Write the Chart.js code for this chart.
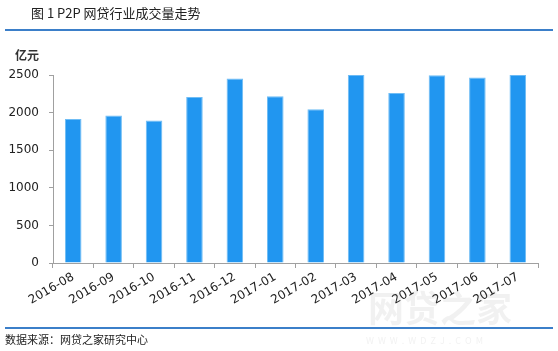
<!DOCTYPE html>
<html>
<head>
<meta charset="utf-8">
<script src="https://cdn.jsdelivr.net/npm/chart.js@4"></script>
<style>
  html, body { margin: 0; padding: 0; background: #fff; }
  #wrap { width: 558px; height: 351px; position: relative; }
</style>
</head>
<body>
<div id="wrap"><canvas id="barChart" width="558" height="351"></canvas></div>
<script>
var months = ['2016-08', '2016-09', '2016-10', '2016-11', '2016-12', '2017-01',
              '2017-02', '2017-03', '2017-04', '2017-05', '2017-06', '2017-07'];
var volume = [1915, 1960, 1895, 2208, 2452, 2218, 2045, 2505, 2262, 2497, 2466, 2505];
var yTicks = [0, 500, 1000, 1500, 2000, 2500];

var titleText = '图 1 P2P 网贷行业成交量走势';
var unitText = '亿元';
var sourceText = '数据来源：网贷之家研究中心';

var fontFam = '"Noto Sans CJK SC", "DejaVu Sans", sans-serif';
var numFam = '"DejaVu Sans", sans-serif';

// title, rules, unit label, source line and faint watermark
var decorPlugin = {
    id: 'decor',
    beforeDraw: function (chart) {
        var c = chart.ctx;
        c.save();
        c.fillStyle = '#fff';
        c.fillRect(0, 0, chart.width, chart.height);
        c.restore();
    },
    afterDraw: function (chart) {
        var c = chart.ctx;
        c.save();
        c.fillStyle = '#222';
        c.textBaseline = 'middle';
        c.font = '13px ' + fontFam;
        c.fillText(titleText, 31, 13);

        c.strokeStyle = '#3b7fc9';
        c.lineWidth = 2;
        c.beginPath(); c.moveTo(5, 30); c.lineTo(553, 30); c.stroke();
        c.beginPath(); c.moveTo(5, 328); c.lineTo(553, 328); c.stroke();

        c.font = 'bold 12px ' + fontFam;
        c.fillStyle = '#333';
        c.fillText(unitText, 15, 55);

        c.font = '11px ' + fontFam;
        c.fillStyle = '#222';
        c.fillText(sourceText, 5, 340);

        // watermark
        c.fillStyle = 'rgba(120,120,120,0.10)';
        c.font = 'bold 36px ' + fontFam;
        c.fillText('网贷之家', 368, 308);
        c.font = '9px ' + fontFam;
        c.fillText('W  W  W  .  W  D  Z  J  .  C  O  M', 366, 341);
        c.restore();
    }
};

var ctx1 = document.getElementById('barChart').getContext('2d');
var barChart = new Chart(ctx1, {
    type: 'bar',
    data: {
        labels: months,
        datasets: [{
            label: '成交量',
            data: volume,
            backgroundColor: '#2196F0',
            borderColor: '#6fbdf5',
            borderWidth: 1,
            categoryPercentage: 1.0,
            barPercentage: 0.41
        }]
    },
    plugins: [decorPlugin],
    options: {
        responsive: false,
        animation: false,
        layout: { padding: { left: 0, right: 20, top: 75, bottom: 0 } },
        plugins: {
            legend: { display: false },
            tooltip: { enabled: false }
        },
        scales: {
            x: {
                afterFit: function (s) { s.height = 88; },
                grid: {
                    offset: true,
                    drawOnChartArea: false,
                    tickLength: 5,
                    color: '#a0a0a0'
                },
                border: { color: '#a0a0a0', width: 1 },
                ticks: {
                    minRotation: 30,
                    maxRotation: 30,
                    padding: 2,
                    color: '#222',
                    font: { family: numFam, size: 12 }
                }
            },
            y: {
                min: 0,
                max: 2500,
                afterFit: function (s) { s.width = 53; },
                afterBuildTicks: function (s) {
                    s.ticks = yTicks.map(function (v) { return { value: v }; });
                },
                grid: {
                    drawOnChartArea: false,
                    tickLength: 4,
                    color: '#a0a0a0'
                },
                border: { color: '#a0a0a0', width: 1 },
                ticks: {
                    padding: 10,
                    color: '#222',
                    font: { family: numFam, size: 12 },
                    callback: function (v) { return String(v); }
                }
            }
        }
    }
});
</script>
</body>
</html>
